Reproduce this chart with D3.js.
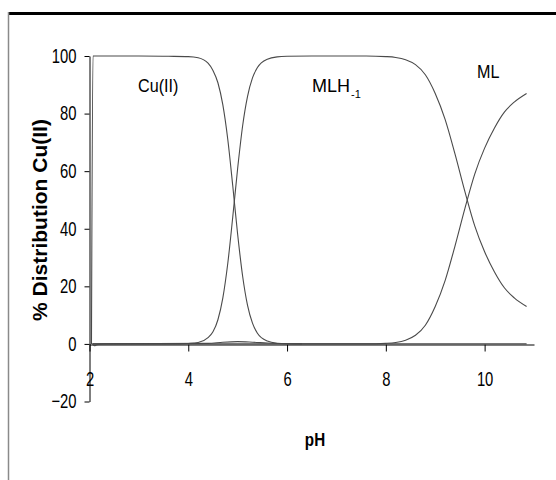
<!DOCTYPE html>
<html>
<head>
<meta charset="utf-8">
<script src="https://cdn.jsdelivr.net/npm/d3@7"></script>
<style>
  body { margin: 0; background: #fff; }
  svg { display: block; }
</style>
</head>
<body>
<div id="chart"></div>
<script>
// data (pH vs % of total Cu(II))
var cuPH  = [2.04, 2.07, 3.0, 3.6, 4.0, 4.2, 4.4, 4.5, 4.6, 4.7, 4.8, 4.9, 5.0, 5.1, 5.2, 5.3, 5.4, 5.6, 5.8, 6.0, 6.3, 10.85];
var cuVal = [0, 100, 100, 99.9, 99.8, 99.4, 97.5, 95, 90.7, 83, 71, 55, 38, 23.6, 13.4, 7.2, 3.7, 1.0, 0.25, 0.06, 0, 0];

var mlh1PH  = [2.06, 3.8, 4.0, 4.2, 4.4, 4.5, 4.6, 4.7, 4.8, 4.9, 5.0, 5.1, 5.2, 5.3, 5.4, 5.6, 5.8, 6.0, 6.5, 7.6, 8.0, 8.2, 8.4, 8.6, 8.8, 9.0, 9.2, 9.4, 9.6, 9.8, 10.0, 10.2, 10.4, 10.6, 10.85];
var mlh1Val = [0, 0, 0.15, 0.5, 2.2, 4.2, 8.4, 16, 28, 44, 61, 75.7, 86, 92.4, 96, 98.9, 99.7, 99.9, 100, 100, 99.8, 99.5, 98.7, 97, 93.5, 87, 78, 66, 53, 41, 32, 25, 19.5, 16, 13];

var mlPH  = [2.06, 7.6, 8.0, 8.2, 8.4, 8.6, 8.8, 9.0, 9.2, 9.4, 9.6, 9.8, 10.0, 10.2, 10.4, 10.6, 10.85];
var mlVal = [0, 0, 0.2, 0.5, 1.3, 3, 6.5, 13, 22, 34, 47, 59, 68, 75, 80.5, 84, 87];

var minorPH  = [2.06, 2.1, 2.15, 2.3, 4.4, 4.7, 5.0, 5.3, 5.6, 6.0, 6.3];
var minorVal = [0, -0.6, -0.3, 0, 0.2, 0.6, 0.8, 0.6, 0.3, 0.05, 0];

var xTicks = [2, 4, 6, 8, 10];
var yTicks = [-20, 0, 20, 40, 60, 80, 100];

var W = 556, H = 480;
var sans = "'Liberation Sans', Arial, sans-serif";

var svg = d3.select("#chart").append("svg")
  .attr("width", W)
  .attr("height", H);

// squeeze glyphs sideways, the original uses a narrow face
function narrow(sel, f) {
  sel.each(function() {
    var w = this.getComputedTextLength();
    d3.select(this)
      .attr("textLength", w * f)
      .attr("lengthAdjust", "spacingAndGlyphs");
  });
}

// frame pieces seen in the picture
svg.append("line")
  .attr("x1", 8).attr("x2", W).attr("y1", 13.5).attr("y2", 13.5)
  .attr("stroke", "#000").attr("stroke-width", 3);
svg.append("line")
  .attr("x1", 8.5).attr("x2", 8.5).attr("y1", 12).attr("y2", H)
  .attr("stroke", "#8a8a8a").attr("stroke-width", 1.5);

var x = d3.scaleLinear().domain([2, 11]).range([89.5, 534]);
var y = d3.scaleLinear().domain([-20, 100]).range([401.5, 56]);

// y axis
var yAxis = svg.append("g")
  .attr("transform", "translate(89.5,0)")
  .call(d3.axisLeft(y).tickValues(yTicks).tickSize(5).tickSizeOuter(0).tickPadding(8));
yAxis.selectAll("text")
  .style("font-family", sans)
  .style("font-size", "20px")
  .attr("fill", "#000")
  .call(narrow, 0.74);

// x axis at y = 0
var xAxis = svg.append("g")
  .attr("transform", "translate(0," + Math.round(y(0)) + ".5)")
  .call(d3.axisBottom(x).tickValues(xTicks).tickSize(7).tickSizeOuter(0).tickPadding(20));
xAxis.selectAll("text")
  .style("font-family", sans)
  .style("font-size", "20px")
  .attr("fill", "#000")
  .call(narrow, 0.74);

svg.selectAll(".domain, .tick line").attr("stroke", "#000").attr("stroke-width", 1);

// curves
var line = d3.line()
  .x(d => x(d[0]))
  .y(d => y(d[1]))
  .curve(d3.curveMonotoneX);

var series = [
  {name: "Cu(II)", ph: cuPH, val: cuVal},
  {name: "MLH-1", ph: mlh1PH, val: mlh1Val},
  {name: "ML", ph: mlPH, val: mlVal},
  {name: "minor", ph: minorPH, val: minorVal}
];

svg.selectAll("path.curve")
  .data(series)
  .enter()
  .append("path")
  .attr("class", "curve")
  .attr("d", s => line(s.ph.map((p, i) => [p, s.val[i]])))
  .attr("fill", "none")
  .attr("stroke", "#4a4a4a")
  .attr("stroke-width", 1.1);

// species labels
svg.append("text")
  .attr("x", 138).attr("y", 92)
  .style("font-family", sans).style("font-size", "19px")
  .text("Cu(II)")
  .call(narrow, 0.85);

var mlh = svg.append("text")
  .attr("x", 312).attr("y", 92)
  .style("font-family", sans).style("font-size", "18px")
  .text("MLH");
mlh.append("tspan")
  .attr("dx", 1).attr("dy", 6)
  .style("font-size", "11px")
  .text("-1");

svg.append("text")
  .attr("x", 477).attr("y", 78)
  .style("font-family", sans).style("font-size", "19px")
  .text("ML")
  .call(narrow, 0.85);

// axis titles
svg.append("text")
  .attr("transform", "translate(47,220) rotate(-90)")
  .attr("text-anchor", "middle")
  .style("font-family", sans)
  .style("font-size", "21px")
  .style("font-weight", "bold")
  .text("% Distribution Cu(II)");

svg.append("text")
  .attr("x", 315).attr("y", 446)
  .attr("text-anchor", "middle")
  .style("font-family", sans)
  .style("font-size", "19px")
  .style("font-weight", "bold")
  .text("pH")
  .call(narrow, 0.8);
</script>
</body>
</html>
